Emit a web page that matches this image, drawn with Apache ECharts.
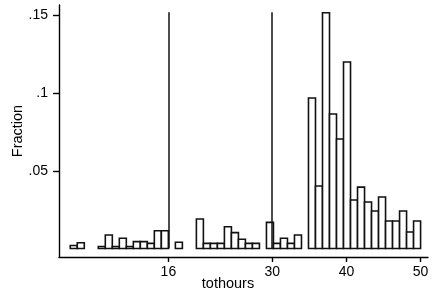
<!DOCTYPE html>
<html>
<head>
<meta charset="utf-8">
<script src="https://cdn.jsdelivr.net/npm/echarts@6/dist/echarts.min.js"></script>
<style>
  html, body { margin: 0; padding: 0; background: #fff; }
  #chart { width: 436px; height: 297px; }
</style>
</head>
<body>
<div id="chart"></div>
<script>
// histogram of tothours, 50 bins from binStart to 50
var binStart = 2.77
var binWidth = 0.9446
var fractions = [
  0.0019, 0.0037, 0, 0, 0.0013, 0.0087, 0.0013, 0.0066, 0.0013, 0.0044,
  0.0044, 0.0033, 0.0114, 0.0114, 0, 0.0040, 0, 0, 0.0190, 0.0033,
  0.0033, 0.0033, 0.0140, 0.0102, 0.0059, 0.0033, 0.0033, 0, 0.0168, 0.0033,
  0.0066, 0.0033, 0.0087, 0, 0.0968, 0.0402, 0.1516, 0.0865, 0.0704, 0.1199,
  0.0312, 0.0395, 0.0299, 0.0241, 0.0331, 0.0177, 0.0177, 0.0241, 0.0106, 0.0177
]
var xTicks = [16, 30, 40, 50]
var yTicks = [0.05, 0.1, 0.15]
var yTickLabels = ['.05', '.1', '.15']
var refLines = [16, 30]
var refLineTop = 0.152

var bins = []
fractions.forEach(function (v, i) {
  if (v > 0) bins.push([binStart + i * binWidth, binStart + (i + 1) * binWidth, v])
})

var font = '"Liberation Sans", Arial, sans-serif'
var myChart = echarts.init(document.getElementById('chart'), null, { renderer: 'canvas' })

var option = {
  animation: false,
  backgroundColor: '#fff',
  grid: { left: 59, right: 8, top: 5, bottom: 40, containLabel: false, outerBoundsMode: 'none' },
  xAxis: {
    type: 'value',
    min: 1.25,
    max: 51,
    name: 'tothours',
    nameLocation: 'middle',
    nameGap: 19,
    nameMoveOverlap: false,
    nameTextStyle: { color: '#000', fontSize: 14.5, fontFamily: font, padding: [0, 31, 0, 0] },
    axisLine: { show: true, onZero: false, lineStyle: { color: '#000', width: 1.4 } },
    axisTick: { show: true, length: 5, customValues: xTicks, lineStyle: { color: '#000', width: 1.4 } },
    axisLabel: { customValues: xTicks, margin: 8, color: '#000', fontSize: 14, fontFamily: font },
    splitLine: { show: false }
  },
  yAxis: {
    type: 'value',
    min: -0.00547,
    max: 0.1566,
    name: 'Fraction',
    nameLocation: 'middle',
    nameGap: 34,
    nameMoveOverlap: false,
    nameTextStyle: { color: '#000', fontSize: 14.5, fontFamily: font },
    axisLine: { show: true, onZero: false, lineStyle: { color: '#000', width: 1.4 } },
    axisTick: { show: true, length: 6, customValues: yTicks, lineStyle: { color: '#000', width: 1.4 } },
    axisLabel: {
      customValues: yTicks,
      margin: 11,
      color: '#000',
      fontSize: 14,
      fontFamily: font,
      formatter: function (v) {
        var i = yTicks.indexOf(v)
        return i >= 0 ? yTickLabels[i] : ''
      }
    },
    splitLine: { show: false }
  },
  series: [
    {
      type: 'custom',
      data: bins,
      encode: { x: [0, 1], y: 2 },
      renderItem: function (params, api) {
        var p0 = api.coord([api.value(0), 0])
        var p1 = api.coord([api.value(1), api.value(2)])
        return {
          type: 'rect',
          shape: { x: p0[0], y: p1[1], width: p1[0] - p0[0], height: p0[1] - p1[1] },
          style: { fill: '#fff', stroke: '#111', lineWidth: 1.6 }
        }
      },
      markLine: {
        silent: true,
        symbol: 'none',
        label: { show: false },
        lineStyle: { color: '#111', width: 1.5, type: 'solid' },
        data: refLines.map(function (x) {
          return [{ coord: [x, 0] }, { coord: [x, refLineTop] }]
        })
      }
    }
  ]
}

myChart.setOption(option)
</script>
</body>
</html>
